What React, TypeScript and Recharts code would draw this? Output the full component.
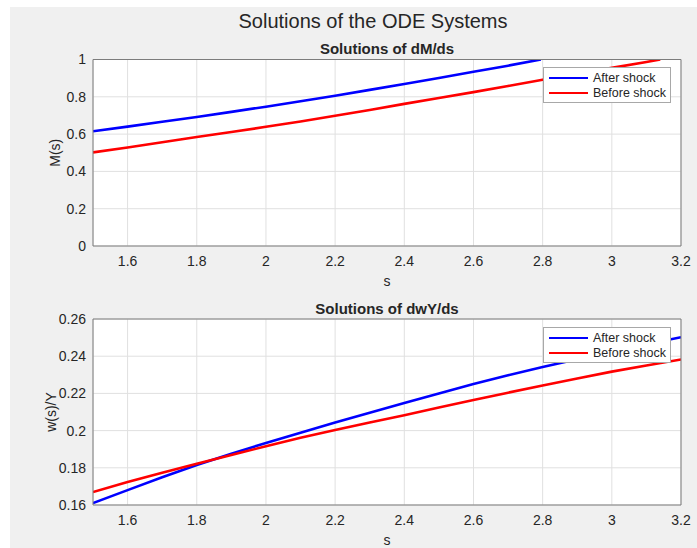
import React from 'react'
import { LineChart, Line, XAxis, YAxis, CartesianGrid, Legend } from 'recharts'

// axis ticks
const sTicks = [1.6, 1.8, 2, 2.2, 2.4, 2.6, 2.8, 3, 3.2]
const mTicks = [0, 0.2, 0.4, 0.6, 0.8, 1]
const wTicks = [0.16, 0.18, 0.2, 0.22, 0.24, 0.26]

// dM/ds solutions
const sAfterM = [1.5, 1.6, 1.7, 1.8, 1.9, 2.0, 2.1, 2.2, 2.3, 2.4, 2.5, 2.6, 2.7, 2.795]
const mAfter = [0.615, 0.64, 0.666, 0.692, 0.719, 0.747, 0.776, 0.806, 0.837, 0.869, 0.901, 0.934, 0.967, 1.0]
const sBeforeM = [1.5, 1.6, 1.7, 1.8, 1.9, 2.0, 2.1, 2.2, 2.3, 2.4, 2.5, 2.6, 2.7, 2.8, 2.9, 3.0, 3.1, 3.14]
const mBefore = [0.502, 0.528, 0.556, 0.584, 0.611, 0.639, 0.668, 0.698, 0.729, 0.762, 0.794, 0.825, 0.858, 0.891, 0.923, 0.955, 0.987, 1.0]

// dwY/ds solutions
const sW = [1.5, 1.6, 1.7, 1.8, 1.9, 2.0, 2.1, 2.2, 2.3, 2.4, 2.5, 2.6, 2.7, 2.8, 2.9, 3.0, 3.1, 3.2]
const wAfter = [0.161, 0.168, 0.1749, 0.1815, 0.1876, 0.1933, 0.1989, 0.2043, 0.2096, 0.2149, 0.22, 0.225, 0.2297, 0.2342, 0.2384, 0.2425, 0.2464, 0.2502]
const wBefore = [0.167, 0.1723, 0.1774, 0.1822, 0.1869, 0.1916, 0.1961, 0.2003, 0.2044, 0.2083, 0.2124, 0.2165, 0.2204, 0.2242, 0.228, 0.2317, 0.235, 0.2382]

const FONT = '"Liberation Sans", Arial, Helvetica, sans-serif'
const AXIS = '#7c7c7c'
const TEXT = '#262626'

type Pt = { s: number; v: number }
const zip = (s: number[], v: number[]): Pt[] => s.map((x, i) => ({ s: x, v: v[i] }))

const LegendBox = (props: any) => {
  const items = props.payload || []
  return (
    <div
      style={{
        width: 128,
        boxSizing: 'border-box',
        border: '1px solid #a8a8a8',
        background: '#fff',
        padding: '2px 0 1px 5px',
        fontFamily: FONT,
        fontSize: 12.5,
        color: TEXT,
      }}
    >
      {items.map((it: any) => (
        <div key={it.value} style={{ display: 'flex', alignItems: 'center', height: 15.5 }}>
          <span style={{ display: 'inline-block', width: 39, borderTop: `2.5px solid ${it.color}`, marginRight: 5 }} />
          <span>{it.value}</span>
        </div>
      ))}
    </div>
  )
}

type PanelProps = {
  top: number
  height: number
  marginTop: number
  xHeight: number
  labelOffset: number
  yDomain: [number, number]
  yTicks: number[]
  yLabel: string
  yLabelDx: number
  after: Pt[]
  before: Pt[]
  legendTop: number
}

const Panel = (p: PanelProps) => {
  const tickFont = { fontSize: 14, fill: TEXT, fontFamily: FONT }
  return (
    <div style={{ position: 'absolute', left: 0, top: p.top }}>
      <LineChart width={697} height={p.height} margin={{ top: p.marginTop, right: 16, bottom: 0, left: 0 }}>
        <CartesianGrid xAxisId="x" yAxisId="y" stroke="#e0e0e0" fill="#ffffff" />
        <XAxis
          xAxisId="x"
          dataKey="s"
          type="number"
          domain={[1.5, 3.2]}
          allowDataOverflow
          ticks={sTicks}
          tickLine={false}
          tickMargin={4}
          axisLine={{ stroke: AXIS }}
          tick={tickFont}
          height={p.xHeight}
          label={{ value: 's', position: 'insideBottom', offset: p.labelOffset, ...tickFont }}
        />
        <XAxis xAxisId="xb" dataKey="s" type="number" domain={[1.5, 3.2]} allowDataOverflow ticks={sTicks}
          orientation="bottom" mirror tick={false} tickSize={5} tickLine={{ stroke: AXIS }} axisLine={false} />
        <XAxis xAxisId="xt" dataKey="s" type="number" domain={[1.5, 3.2]} allowDataOverflow ticks={sTicks}
          orientation="top" mirror tick={false} tickSize={5} tickLine={{ stroke: AXIS }} axisLine={{ stroke: AXIS }} />
        <YAxis
          yAxisId="y"
          type="number"
          domain={p.yDomain}
          allowDataOverflow
          ticks={p.yTicks}
          tickLine={false}
          tickMargin={1}
          width={93}
          axisLine={{ stroke: AXIS }}
          tick={tickFont}
          label={{ value: p.yLabel, angle: -90, position: 'center', dx: p.yLabelDx, ...tickFont }}
        />
        <YAxis yAxisId="yl" type="number" domain={p.yDomain} allowDataOverflow ticks={p.yTicks}
          orientation="left" mirror tick={false} tickSize={5} tickLine={{ stroke: AXIS }} axisLine={false} />
        <YAxis yAxisId="yr" type="number" domain={p.yDomain} allowDataOverflow ticks={p.yTicks}
          orientation="right" mirror tick={false} tickSize={5} tickLine={{ stroke: AXIS }} axisLine={{ stroke: AXIS }} />
        <Legend
          layout="horizontal"
          verticalAlign="middle"
          align="center"
          width={128}
          wrapperStyle={{ left: 543, top: p.legendTop }}
          content={<LegendBox />}
        />
        <Line xAxisId="x" yAxisId="y" data={p.after} dataKey="v" name="After shock" stroke="#0000ff"
          strokeWidth={2.6} dot={false} activeDot={false} isAnimationActive={false} />
        <Line xAxisId="x" yAxisId="y" data={p.before} dataKey="v" name="Before shock" stroke="#ff0000"
          strokeWidth={2.6} dot={false} activeDot={false} isAnimationActive={false} />
      </LineChart>
    </div>
  )
}

export default function App() {
  return (
    <div style={{ position: 'relative', width: 697, height: 548, background: '#fff', fontFamily: FONT, overflow: 'hidden' }}>
      <style>{'body{margin:0}'}</style>
      <div style={{ position: 'absolute', left: 10, top: 7, right: 0, bottom: 0, background: '#f0f0f0' }} />
      <div style={{ position: 'absolute', left: 173, top: 11, width: 400, textAlign: 'center', fontSize: 20, lineHeight: '20px', color: TEXT }}>
        Solutions of the ODE Systems
      </div>
      <div style={{ position: 'absolute', left: 187, top: 40.5, width: 400, textAlign: 'center', fontSize: 15, fontWeight: 'bold', lineHeight: '15px', color: TEXT }}>
        Solutions of dM/ds
      </div>
      <div style={{ position: 'absolute', left: 187, top: 300.5, width: 400, textAlign: 'center', fontSize: 15, fontWeight: 'bold', lineHeight: '15px', color: TEXT }}>
        Solutions of dwY/ds
      </div>
      <Panel
        top={0}
        height={291}
        marginTop={59.5}
        xHeight={45}
        labelOffset={5.5}
        yDomain={[0, 1]}
        yTicks={mTicks}
        yLabel="M(s)"
        yLabelDx={8.5}
        after={zip(sAfterM, mAfter)}
        before={zip(sBeforeM, mBefore)}
        legendTop={67}
      />
      <Panel
        top={291}
        height={257}
        marginTop={28}
        xHeight={43}
        labelOffset={3.5}
        yDomain={[0.16, 0.26]}
        yTicks={wTicks}
        yLabel="w(s)/Y"
        yLabelDx={5}
        after={zip(sW, wAfter)}
        before={zip(sW, wBefore)}
        legendTop={36}
      />
    </div>
  )
}
